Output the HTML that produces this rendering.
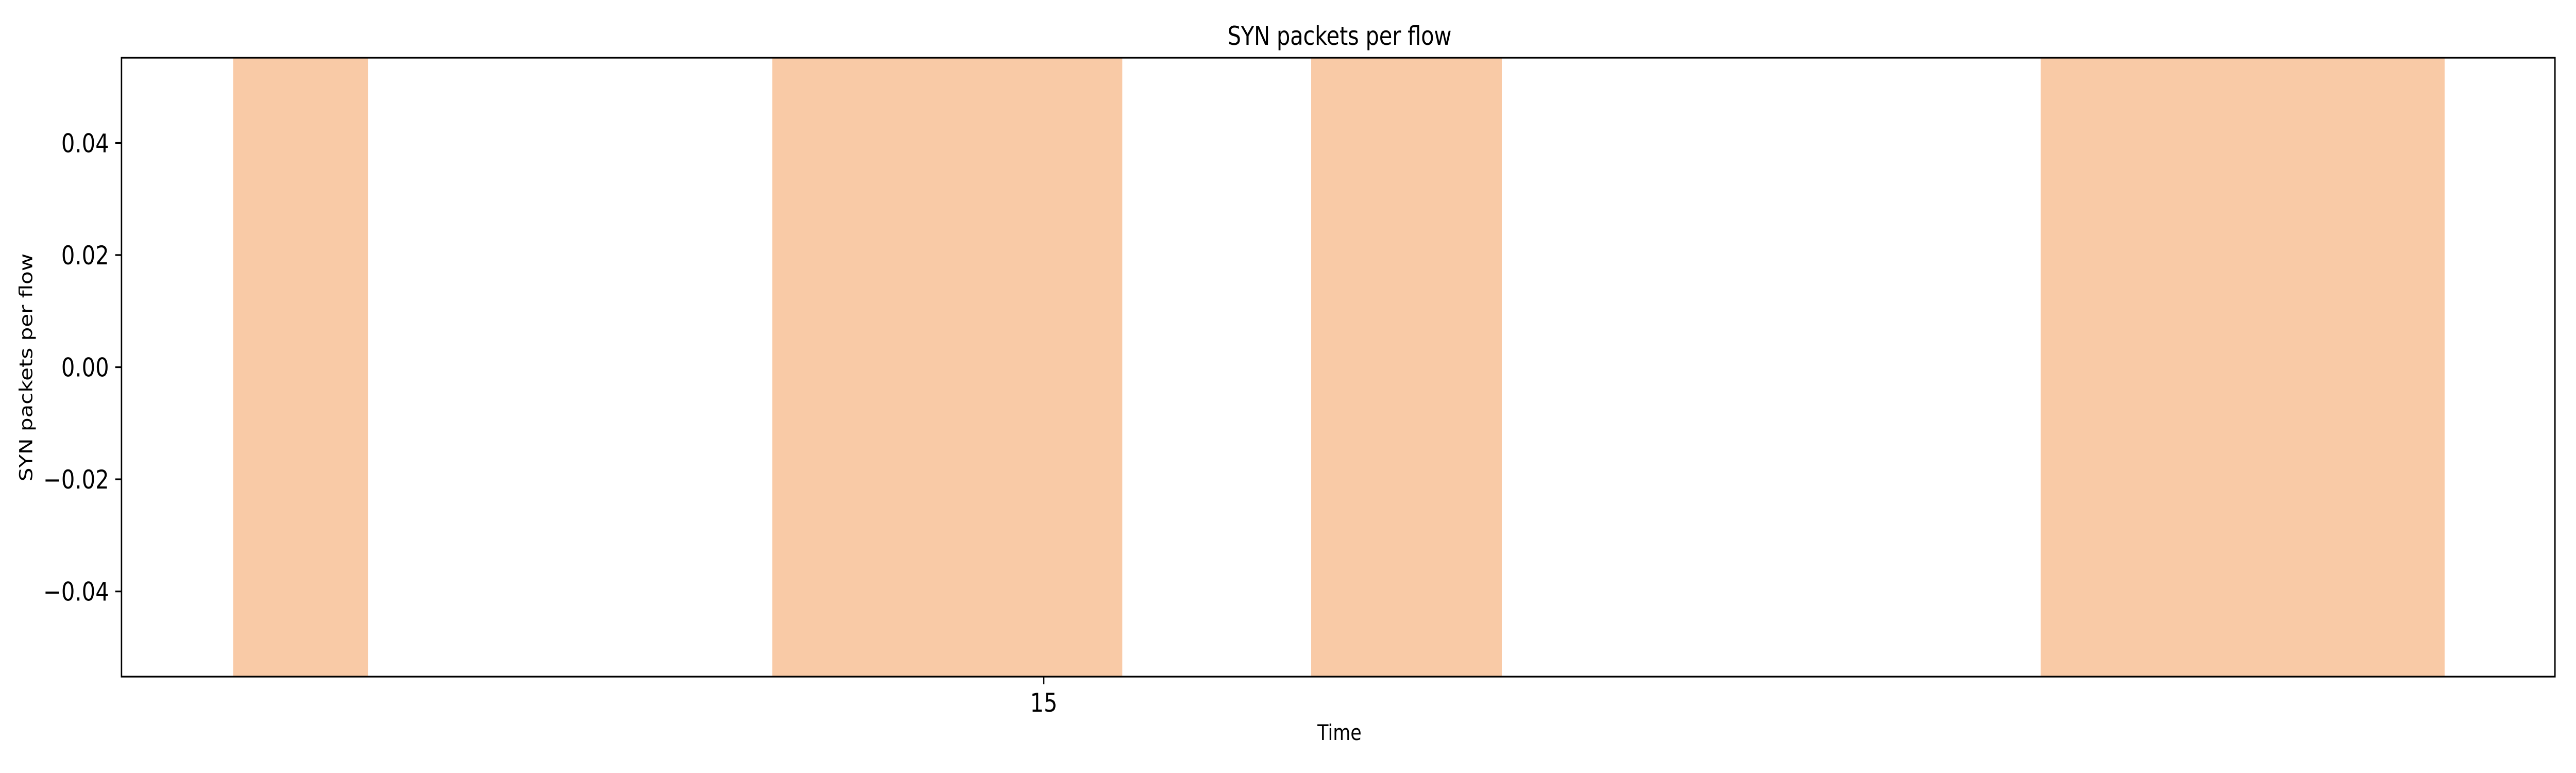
<!DOCTYPE html>
<html><head><meta charset="utf-8"><style>
html,body{margin:0;padding:0;background:#fff;overflow:hidden;width:100%;height:100%;}
svg{display:block;width:100vw;height:100vh;font-family:"DejaVu Sans","Liberation Sans",sans-serif;}
</style></head><body>
<svg id="chart" viewBox="0 0 6000 1500" preserveAspectRatio="none" xmlns="http://www.w3.org/2000/svg">
<rect x="0" y="0" width="6000" height="1500" fill="#fff"/>
<g id="spans"></g>
<g id="axes"></g>
<text x="3120" y="87" font-size="50" text-anchor="middle" textLength="522">SYN packets per flow</text>
<text x="3120" y="1436" font-size="42" text-anchor="middle">Time</text>
<text transform="translate(75,713) rotate(-90)" font-size="42" text-anchor="middle">SYN packets per flow</text>
</svg>
<script>
const spanStarts = [-3.88, 8.68, 21.23, 38.22];
const spanEnds = [-0.74, 16.83, 25.67, 47.63];
const xTicks = [15];
const xTickLabels = ["15"];
const yTicks = [0.04, 0.02, 0.00, -0.02, -0.04];
const yTickLabels = ["0.04", "0.02", "0.00", "\u22120.02", "\u22120.04"];
const xDomain = [-6.48, 50.2];
const yDomain = [-0.0552, 0.0552];

const L = 283, R = 5951, T = 112, B = 1313;
const NS = "http://www.w3.org/2000/svg";
function xs(v){ return L + (v - xDomain[0]) / (xDomain[1] - xDomain[0]) * (R - L); }
function ys(v){ return B - (v - yDomain[0]) / (yDomain[1] - yDomain[0]) * (B - T); }
function mk(tag, attrs, parent){ const e = document.createElementNS(NS, tag); for (const k in attrs) e.setAttribute(k, attrs[k]); parent.appendChild(e); return e; }

const sp = document.getElementById('spans');
for (let i = 0; i < spanStarts.length; i++) {
  const r = mk('rect', {x: xs(spanStarts[i]), y: T, width: xs(spanEnds[i]) - xs(spanStarts[i]), height: B - T, fill: '#f9caa6'}, sp);
  
  
}
const ax = document.getElementById('axes');
for (let i = 0; i < yTicks.length; i++) {
  const y = ys(yTicks[i]);
  const t = mk('line', {x1: L - 14.6, x2: L, y1: y, y2: y, stroke: '#000', 'stroke-width': 3.3}, ax);
  
  
  const lb = mk('text', {x: L - 29, y: y + 18, 'font-size': 50, 'text-anchor': 'end'}, ax);
  lb.textContent = yTickLabels[i];
  
  
}
for (let i = 0; i < xTicks.length; i++) {
  const x = xs(xTicks[i]);
  const t = mk('line', {x1: x, x2: x, y1: B, y2: B + 14.6, stroke: '#000', 'stroke-width': 3.3}, ax);
  
  
  const lb = mk('text', {x: x, y: B + 68, 'font-size': 50, 'text-anchor': 'middle'}, ax);
  lb.textContent = xTickLabels[i];
  
  
}
const frame = mk('rect', {x: L, y: T, width: R - L, height: B - T, fill: 'none', stroke: '#000', 'stroke-width': 3.3}, ax);


</script>
</body></html>
